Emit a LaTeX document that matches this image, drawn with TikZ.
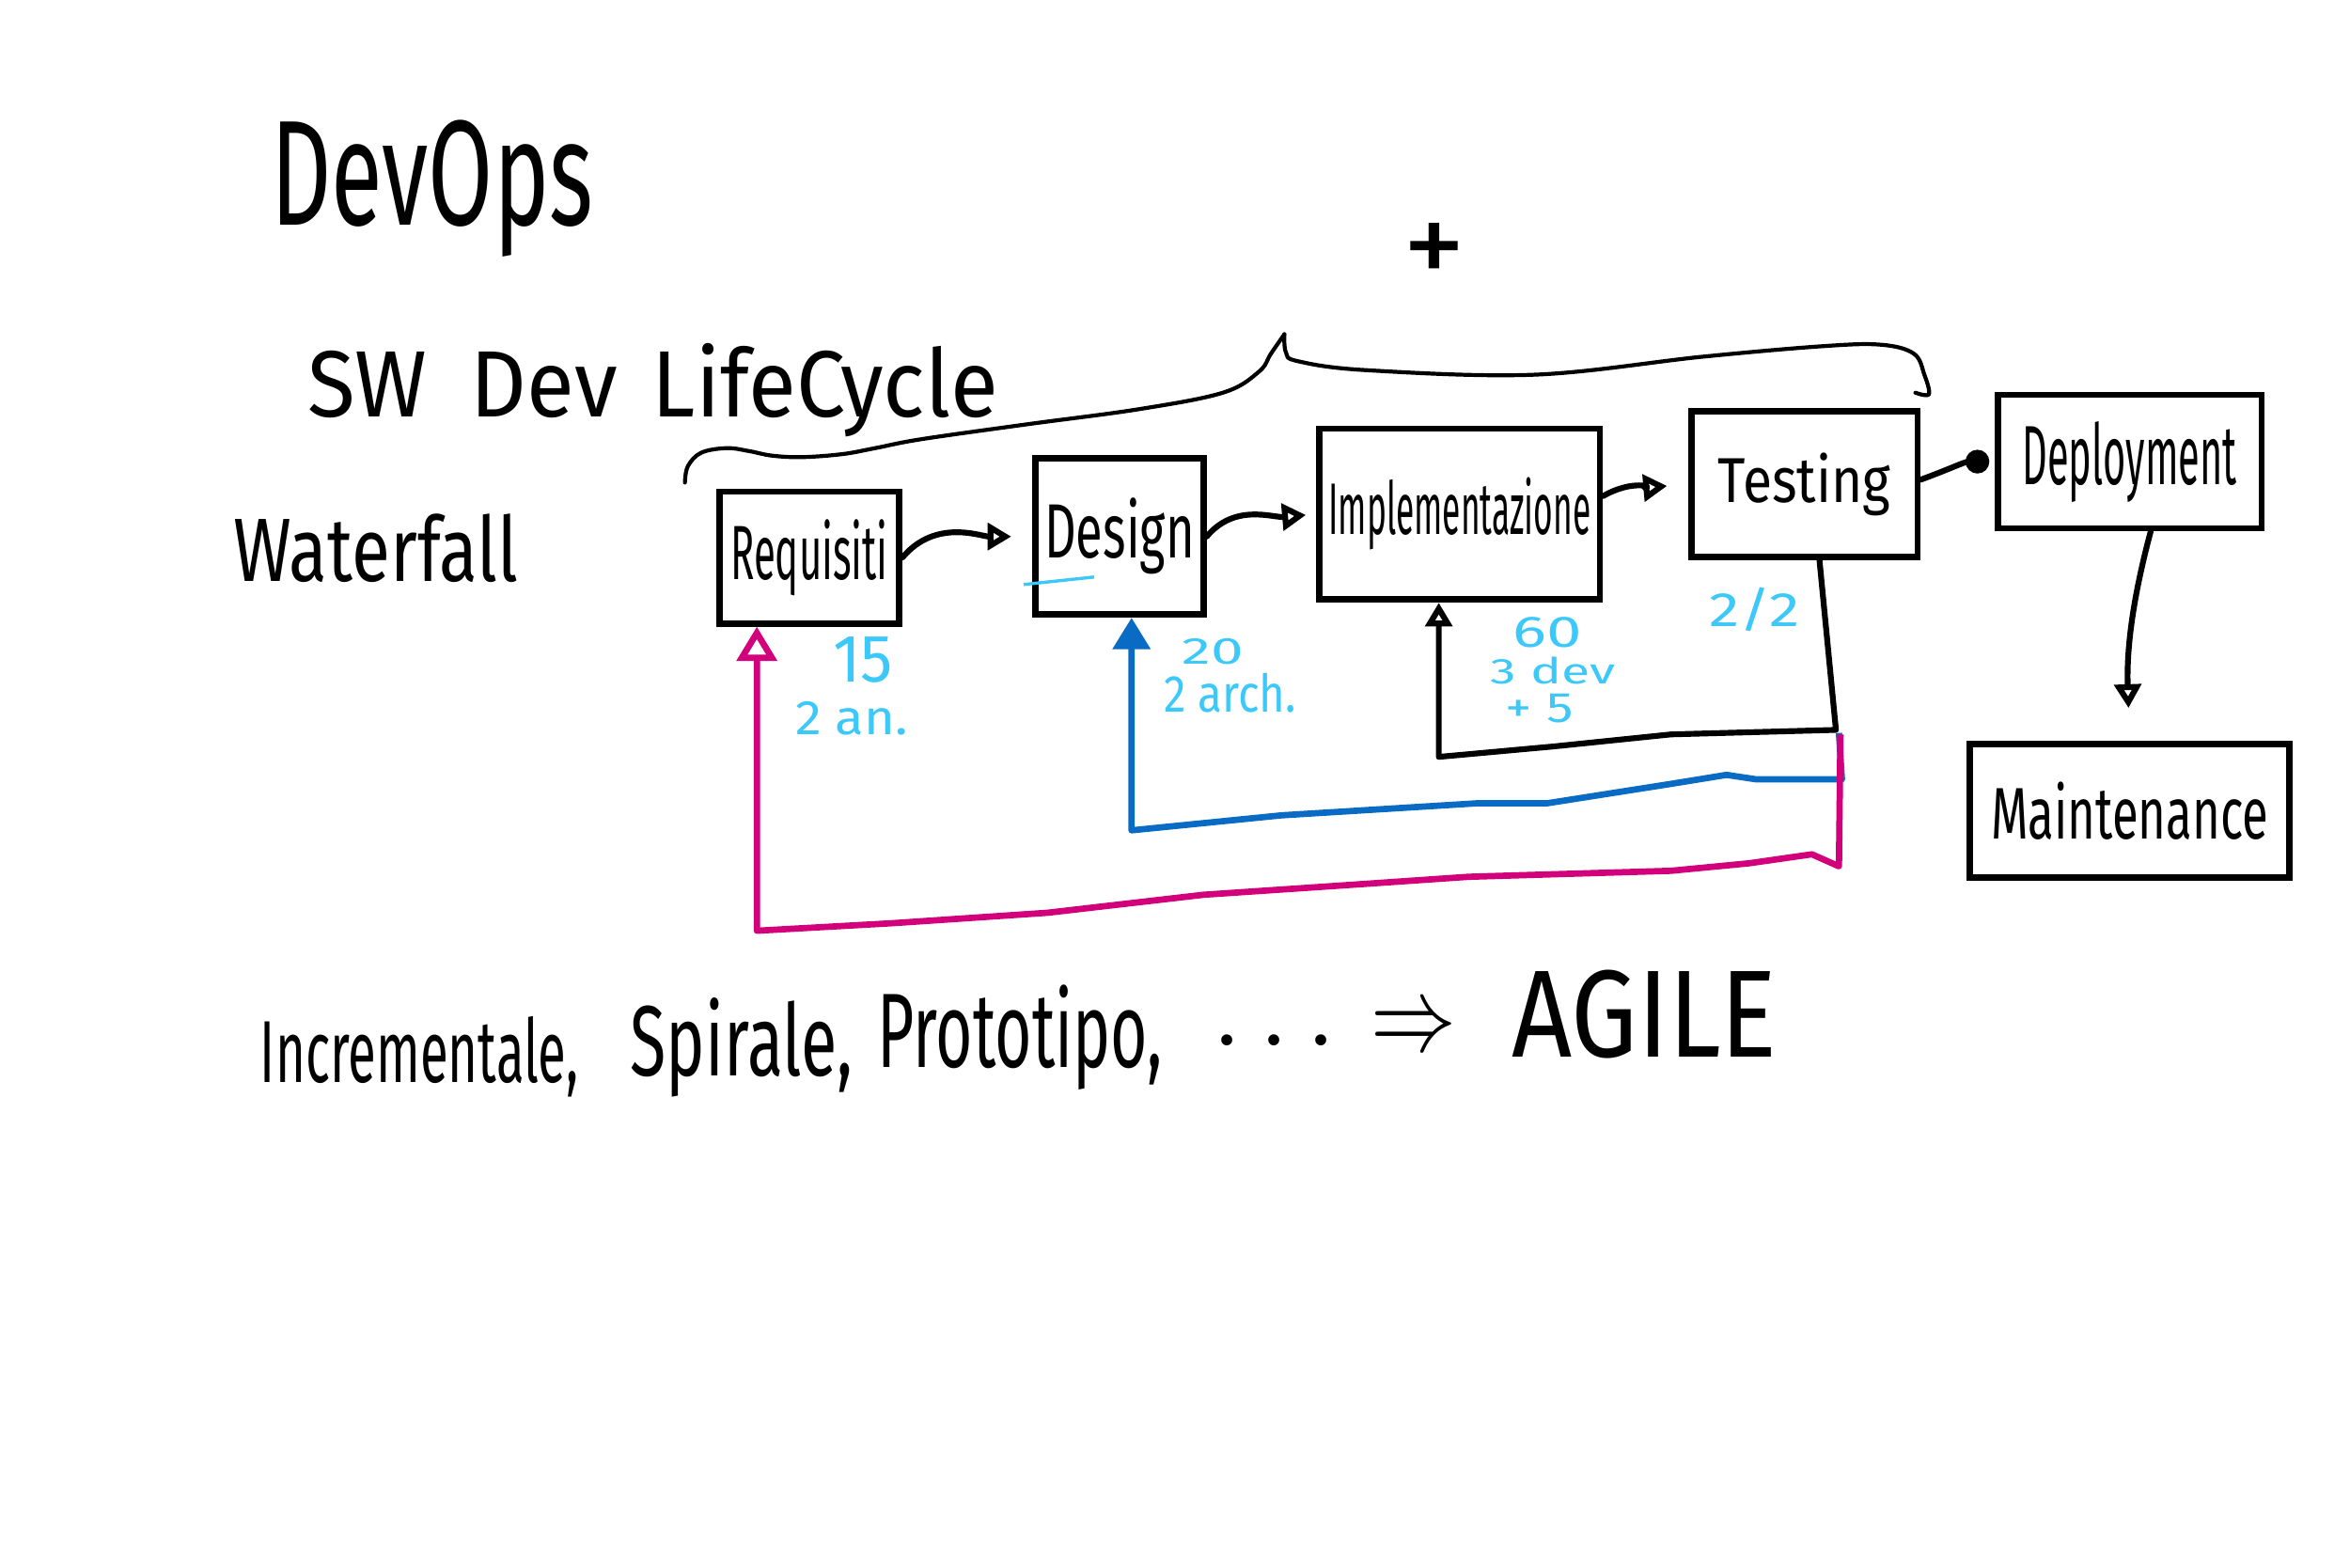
\documentclass[tikz,border=0pt]{standalone}
\usepackage{fontspec}
\usepackage{graphicx}
\setmainfont{Fira Sans}
\usetikzlibrary{arrows.meta}
\definecolor{cyanink}{HTML}{3CC8F8}
\definecolor{blueink}{HTML}{0A6BC4}
\definecolor{magink}{HTML}{D2007A}
\newcommand{\fitt}[3]{\resizebox{#1cm}{#2cm}{#3}}
\begin{document}
\begin{tikzpicture}[x=0.01cm,y=-0.01cm,
  box/.style={draw, line width=1.2pt, inner sep=0pt},
  txt/.style={inner sep=0pt, anchor=base west},
  cnote/.style={inner sep=0pt, anchor=base west, text=cyanink},
  flow/.style={line width=1.1pt, line cap=round, line join=round, -{Triangle[open,length=4.5pt,width=5pt]}},
  dotflow/.style={line width=1.1pt, line cap=round, -{Circle[length=4.5pt]}},
  blueline/.style={line width=1.2pt, draw=blueink, line join=round, -{Triangle[length=6pt,width=7pt]}},
  magline/.style={line width=1.2pt, draw=magink, line join=round, -{Triangle[open,length=6.5pt,width=7.5pt]}},
  brace/.style={line width=0.75pt, line cap=round}]
\useasboundingbox (0,0) rectangle (1568,1046);

% titles
\node[txt] (devops) at (180,150) {\fitt{2.15}{0.70}{DevOps}};
\node[inner sep=0pt] (plus) at (957,170) {\fitt{0.42}{0.42}{+}};
\node[txt] (sdlc) at (205,278) {\fitt{4.60}{0.49}{SW\hspace{0.5em}Dev\hspace{0.4em}LifeCycle}};
\node[txt] (waterfall) at (155,388) {\fitt{1.90}{0.45}{Waterfall}};

% brace
\draw[brace] plot[smooth, tension=0.6] coordinates {(457,322) (459,311) (468,302) (485,299) (500,301) (515,304) (535,305) (562,303) (584,299) (615,293) (686,283) (760,273) (816,262) (840,248) (848,236) (857,223)};
\draw[brace] plot[smooth, tension=0.6] coordinates {(857,223) (858,235) (866,241) (912,247) (1024,250) (1136,238) (1216,231) (1255,230) (1277,236) (1284,250) (1287,263) (1278,262)};

% boxes
\node[box, minimum width=1.20cm, minimum height=0.88cm] (req) at (540,372) {\fitt{1.05}{0.40}{Requisiti}};
\node[box, minimum width=1.12cm, minimum height=1.04cm] (des) at (747,358) {\fitt{1.00}{0.40}{Design}};
\node[box, minimum width=1.87cm, minimum height=1.14cm] (imp) at (974,343) {\fitt{1.75}{0.38}{Implementazione}};
\node[box, minimum width=1.51cm, minimum height=0.97cm] (tes) at (1204,323) {\fitt{1.15}{0.33}{Testing}};
\node[box, minimum width=1.76cm, minimum height=0.89cm] (dep) at (1421,308) {\fitt{1.43}{0.42}{Deployment}};
\node[box, minimum width=2.13cm, minimum height=0.89cm] (mai) at (1421,541) {\fitt{1.85}{0.38}{Maintenance}};

% forward flow
\draw[flow, shorten >=4pt] (req.east) to[out=50,in=180] (des.west);
\draw[flow, shorten >=2pt] (des.east) to[out=50,in=185] (imp.west);
\draw[flow, shorten >=4pt] ([yshift=0.12cm]imp.east) to[out=30,in=185] (tes.west);
\draw[dotflow, shorten >=1pt] ([yshift=0.03cm]tes.east) to[out=20,in=180] (dep.west);
\draw[flow, shorten >=0.22cm] ([xshift=0.14cm]dep.south) to[out=-105,in=92] (mai.north);

% feedback loops
\coordinate (fbR) at (1225,487);
\coordinate (fbL) at (960,505);
\draw[flow] ([xshift=0.1cm]tes.south) -- (fbR) -- (1115,490) -- (1037,498) -- (fbL) -- (fbL |- imp.south);

\coordinate (blR) at (1229,520);
\coordinate (blL) at (755,554);
\draw[blueline] (1227,489) -- (blR) -- (1172,520) -- (1152,517) -- (1115,523) -- (1032,536) -- (985,536) -- (855,544) -- (blL) -- (blL |- des.south);

\coordinate (mgR) at (1228,490);
\coordinate (mgL) at (505,621);
\draw[magline] (mgR) -- (1227,578) -- (1209,570) -- (1167,576) -- (1115,581) -- (980,585) -- (907,590) -- (803,597) -- (699,609) -- (595,616) -- (mgL) -- (mgL |- req.south);

% cyan notes
\draw[cyanink, line width=0.6pt] (683,390) -- (730,385);
\node[cnote] (n15) at (555,455) {\fitt{0.40}{0.30}{15}};
\node[cnote] (nan) at (530,490) {\fitt{0.75}{0.22}{2 an.}};
\node[cnote] (n20) at (788,443) {\fitt{0.41}{0.17}{20}};
\node[cnote] (narch) at (776,475) {\fitt{0.88}{0.26}{2 arch.}};
\node[cnote] (n60) at (1009,432) {\fitt{0.46}{0.20}{60}};
\node[cnote] (ndev) at (994,456) {\fitt{0.83}{0.18}{3 dev}};
\node[cnote] (nplus) at (1004,482) {\fitt{0.45}{0.19}{+ 5}};
\node[cnote] (n22) at (1140,418) {\fitt{0.60}{0.26}{2/2}};

% bottom line
\node[txt] (incr) at (173,722) {\fitt{2.12}{0.44}{Incrementale,}};
\node[txt] (spir) at (420,718) {\fitt{1.48}{0.52}{Spirale,}};
\node[txt] (proto) at (585,712) {\fitt{1.90}{0.55}{Prototipo,}};
\node[txt, font=\fontsize{15}{15}\selectfont] (dots) at (812,697) {. . .};
\node[inner sep=0pt] (impl) at (943,688) {\fitt{0.57}{0.26}{$\Rightarrow$}};
\node[txt] (agile) at (1008,705) {\fitt{1.77}{0.58}{AGILE}};
\end{tikzpicture}
\end{document}
